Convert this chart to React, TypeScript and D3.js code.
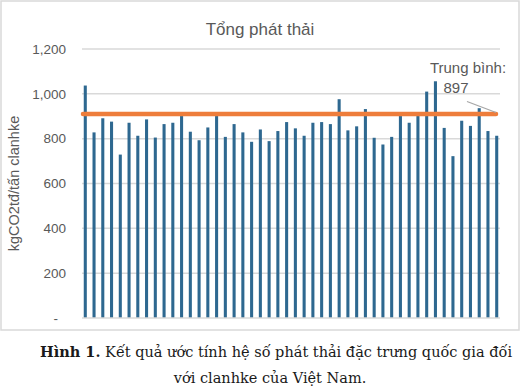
import React from "react";
import * as d3 from "d3";

const values: number[] = [
  1037, 828, 891, 876, 729, 871, 813, 886, 805, 865, 871, 901,
  831, 793, 850, 901, 808, 865, 828, 786, 841, 789, 834, 874,
  846, 813, 871, 874, 865, 976, 837, 855, 932, 804, 774, 808,
  901, 871, 901, 1010, 1056, 848, 722, 880, 857, 936, 834, 813,
];
const categories: string[] = values.map((_, i) => String(i + 1));
const yTicks: number[] = [0, 200, 400, 600, 800, 1000, 1200];
const averageLabel = "897";
const averageLevel = 910;
const title = "Tổng phát thải";
const yTitle = "kgCO2tđ/tấn clanhke";
const captionBold = "Hình 1.";
const captionRest = " Kết quả ước tính hệ số phát thải đặc trưng quốc gia đối";
const captionLine2 = "với clanhke của Việt Nam.";

export default function App() {
  const W = 521, H = 391;
  const left = 82, right = 500, top = 49, bottom = 318;
  const x = d3.scaleBand<string>().domain(categories).range([left, right]).paddingInner(0.65).paddingOuter(0.2);
  const y = d3.scaleLinear().domain([0, 1200]).range([bottom, top]);
  const fmt = d3.format(",");
  const sans = "'Liberation Sans', Arial, sans-serif";
  const serif = "'DejaVu Serif', 'Liberation Serif', serif";
  const grey = "#595959";
  return (
    <svg width={W} height={H} style={{ position: "absolute", left: 0, top: 0, background: "#fff" }}>
      <rect x={1} y={1} width={518} height={329} fill="#fff" stroke="#d9d9d9" strokeWidth={1.5} />
      <text x={260} y={35} textAnchor="middle" fontFamily={sans} fontSize={17} fill={grey}>{title}</text>
      {yTicks.map((t) => (
        <g key={t}>
          {t > 0 && <line x1={left} x2={right} y1={y(t)} y2={y(t)} stroke="#d9d9d9" strokeWidth={1.5} />}
          <text x={t === 0 ? 58 : 66} y={y(t)} dy="0.35em" textAnchor="end" fontFamily={sans} fontSize={13.5} fill={grey}>
            {t === 0 ? "-" : fmt(t)}
          </text>
        </g>
      ))}
      {values.map((v, i) => (
        <rect key={i} x={x(categories[i])} y={y(v)} width={x.bandwidth()} height={bottom - y(v)} fill="#2E6890" />
      ))}
      <line x1={left} x2={right} y1={bottom} y2={bottom} stroke="#d9d9d9" strokeWidth={1.5} />
      <line x1={83} x2={496} y1={y(averageLevel)} y2={y(averageLevel)} stroke="#EE7D3B" strokeWidth={4.5} strokeLinecap="round" />
      <line x1={467} y1={101.5} x2={496} y2={112.5} stroke="#a6a6a6" strokeWidth={1.2} />
      <text x={468} y={73} textAnchor="middle" fontFamily={sans} fontSize={15} fill={grey}>Trung bình:</text>
      <text x={456} y={93} textAnchor="middle" fontFamily={sans} fontSize={15} fill={grey}>{averageLabel}</text>
      <text transform={`translate(19, ${(top + bottom) / 2}) rotate(-90)`} textAnchor="middle" fontFamily={sans} fontSize={14.5} fill={grey}>{yTitle}</text>
      <text x={276} y={357} textAnchor="middle" fontFamily={serif} fontSize={14.5} fill="#1a1a1a">
        <tspan fontWeight="bold">{captionBold}</tspan>
        <tspan>{captionRest}</tspan>
      </text>
      <text x={270} y={383} textAnchor="middle" fontFamily={serif} fontSize={14.5} fill="#1a1a1a">{captionLine2}</text>
    </svg>
  );
}
